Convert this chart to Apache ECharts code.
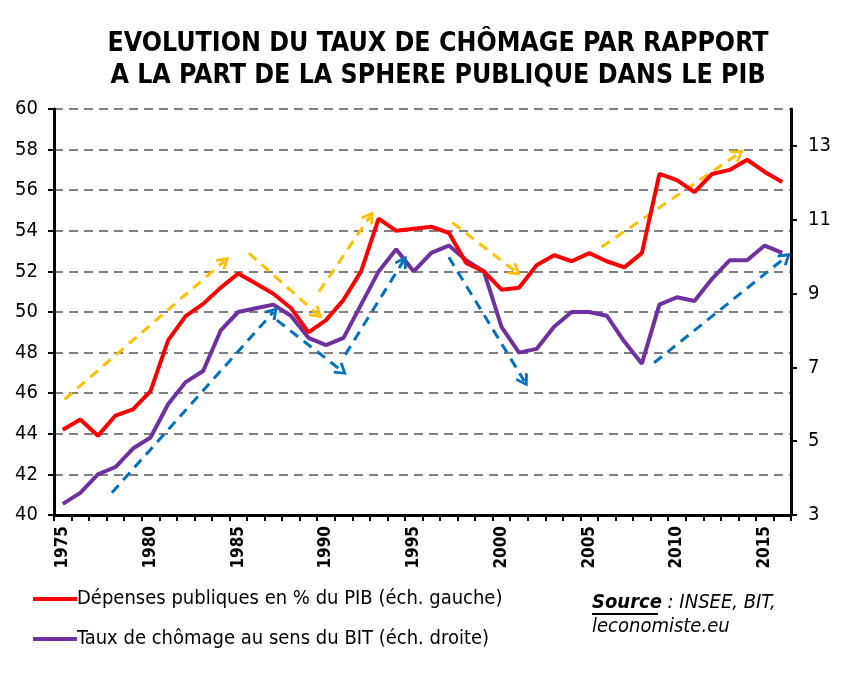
<!DOCTYPE html>
<html><head><meta charset="utf-8">
<script src="https://cdn.jsdelivr.net/npm/echarts@6/dist/echarts.min.js"></script>
<style>html,body{margin:0;padding:0;background:#fff}#c{width:848px;height:673px}</style>
</head><body><div id="c"></div>
<script>
const years = ['1975','1976','1977','1978','1979','1980','1981','1982','1983','1984',
  '1985','1986','1987','1988','1989','1990','1991','1992','1993','1994',
  '1995','1996','1997','1998','1999','2000','2001','2002','2003','2004',
  '2005','2006','2007','2008','2009','2010','2011','2012','2013','2014',
  '2015','2016'];
const depenses = [44.2,44.7,43.9,44.9,45.2,46.1,48.6,49.8,50.4,51.2,
  51.9,51.4,50.9,50.2,49.0,49.6,50.6,52.0,54.6,54.0,
  54.1,54.2,53.9,52.4,52.0,51.1,51.2,52.3,52.8,52.5,
  52.9,52.5,52.2,52.9,56.8,56.5,55.9,56.8,57.0,57.5,
  56.9,56.4];
const chomage = [3.3,3.6,4.1,4.3,4.8,5.1,6.0,6.6,6.9,8.0,
  8.5,8.6,8.7,8.4,7.8,7.6,7.8,8.7,9.6,10.2,
  9.6,10.1,10.3,9.9,9.6,8.1,7.4,7.5,8.1,8.5,
  8.5,8.4,7.7,7.1,8.7,8.9,8.8,9.4,9.9,9.9,
  10.3,10.1];
const leftTicks = [40,42,44,46,48,50,52,54,56,58,60];
const rightTicks = [3,5,7,9,11,13];
// trend arrows: [yearFrom, valueFrom, yearTo, valueTo] on the left scale
const yellowArrows = [[1975.1,45.7,1984.2,52.5],[1985.6,52.9,1989.5,49.9],[1989.6,51.0,1992.5,54.7],[1997.2,54.4,2000.8,52.0],[2005.7,53.2,2013.5,57.8]];
const blueArrows = [[1977.8,41.1,1987.0,50.0],[1987.2,49.6,1990.9,47.1],[1991.1,47.9,1994.4,52.5],[1997.0,52.7,2001.3,46.6],[2008.7,47.5,2016.2,52.7]];

const FONT = "'DejaVu Sans Condensed','DejaVu Sans',sans-serif";
const chevron = 'path://M5,0 L10,8.5 L8.5,10 L5,4 L1.5,10 L0,8.5 Z';

function arrowSeries(arr, color, name) {
  return {
    name: name, type: 'line', xAxisIndex: 1, yAxisIndex: 0, data: [], silent: true,
    markLine: {
      silent: true, animation: false,
      symbol: ['none', chevron], symbolSize: [14, 13],
      label: {show: false},
      lineStyle: {color: color, type: [10, 7], width: 3},
      data: arr.map(a => [{coord: [a[0], a[1]]}, {coord: [a[2], a[3]]}])
    }
  };
}

const chart = echarts.init(document.getElementById('c'));
chart.setOption({
  animation: false,
  backgroundColor: '#fff',
  title: {
    text: 'EVOLUTION DU TAUX DE CHÔMAGE PAR RAPPORT\nA LA PART DE LA SPHERE PUBLIQUE DANS LE PIB',
    left: 433, top: 23, textAlign: 'center',
    textStyle: {fontFamily: FONT, fontWeight: 'bold', fontSize: 26.5, lineHeight: 32, color: '#000'}
  },
  grid: {left: 54, right: 57, top: 109, bottom: 158},
  legend: {
    orient: 'vertical', left: 28, top: 584, itemGap: 20,
    icon: 'rect', itemWidth: 44, itemHeight: 4,
    data: ['Dépenses publiques en % du PIB (éch. gauche)', 'Taux de chômage au sens du BIT (éch. droite)'],
    textStyle: {fontFamily: FONT, fontSize: 20, color: '#000', padding: [0,0,0,-5]}
  },
  xAxis: [{
    type: 'category', data: years, boundaryGap: true,
    axisLine: {lineStyle: {color: '#000', width: 3}},
    axisTick: {show: true, interval: 0, length: 6, lineStyle: {color: '#000', width: 2}},
    axisLabel: {interval: 4, rotate: 90, margin: 11, fontFamily: FONT, fontWeight: 'bold', fontSize: 17, color: '#000'},
    splitLine: {show: false}
  }, {
    type: 'value', min: 1974.5, max: 2016.5, show: false
  }],
  yAxis: [{
    type: 'value', min: 40, max: 60, interval: 2, position: 'left',
    axisLine: {show: true, lineStyle: {color: '#000', width: 3}},
    axisTick: {show: true, length: 6, lineStyle: {color: '#000', width: 2}},
    axisLabel: {fontFamily: FONT, fontSize: 20, color: '#000', margin: 16, customValues: leftTicks},
    splitLine: {show: true, lineStyle: {color: '#808080', type: [9, 6], width: 2}}
  }, {
    type: 'value', min: 3, max: 14, interval: 2, position: 'right',
    axisLine: {show: true, lineStyle: {color: '#000', width: 3}},
    axisTick: {show: true, length: 6, lineStyle: {color: '#000', width: 2}, customValues: rightTicks},
    axisLabel: {fontFamily: FONT, fontSize: 20, color: '#000', margin: 17, customValues: rightTicks},
    splitLine: {show: false}
  }],
  series: [
    arrowSeries(yellowArrows, '#FFC000', 'jaune'),
    arrowSeries(blueArrows, '#0070C0', 'bleu'),
    {
      name: 'Dépenses publiques en % du PIB (éch. gauche)', type: 'line',
      xAxisIndex: 0, yAxisIndex: 0, data: depenses, symbol: 'none',
      lineStyle: {color: '#FF0000', width: 4}, itemStyle: {color: '#FF0000'}, z: 5
    },
    {
      name: 'Taux de chômage au sens du BIT (éch. droite)', type: 'line',
      xAxisIndex: 0, yAxisIndex: 1, data: chomage, symbol: 'none',
      lineStyle: {color: '#7030A0', width: 4}, itemStyle: {color: '#7030A0'}, z: 4
    }
  ],
  graphic: [{
    type: 'text', left: 592, top: 591,
    style: {
      text: '{s|Source} : INSEE, BIT,\nleconomiste.eu',
      fontFamily: FONT, fontSize: 20, fontStyle: 'italic', fill: '#000', lineHeight: 24,
      rich: {s: {fontFamily: FONT, fontSize: 20, fontStyle: 'italic', fontWeight: 'bold', fill: '#000'}}
    }
  }, {
    type: 'rect', left: 592, top: 613, shape: {width: 66, height: 2}, style: {fill: '#000'}
  }]
});
</script></body></html>
